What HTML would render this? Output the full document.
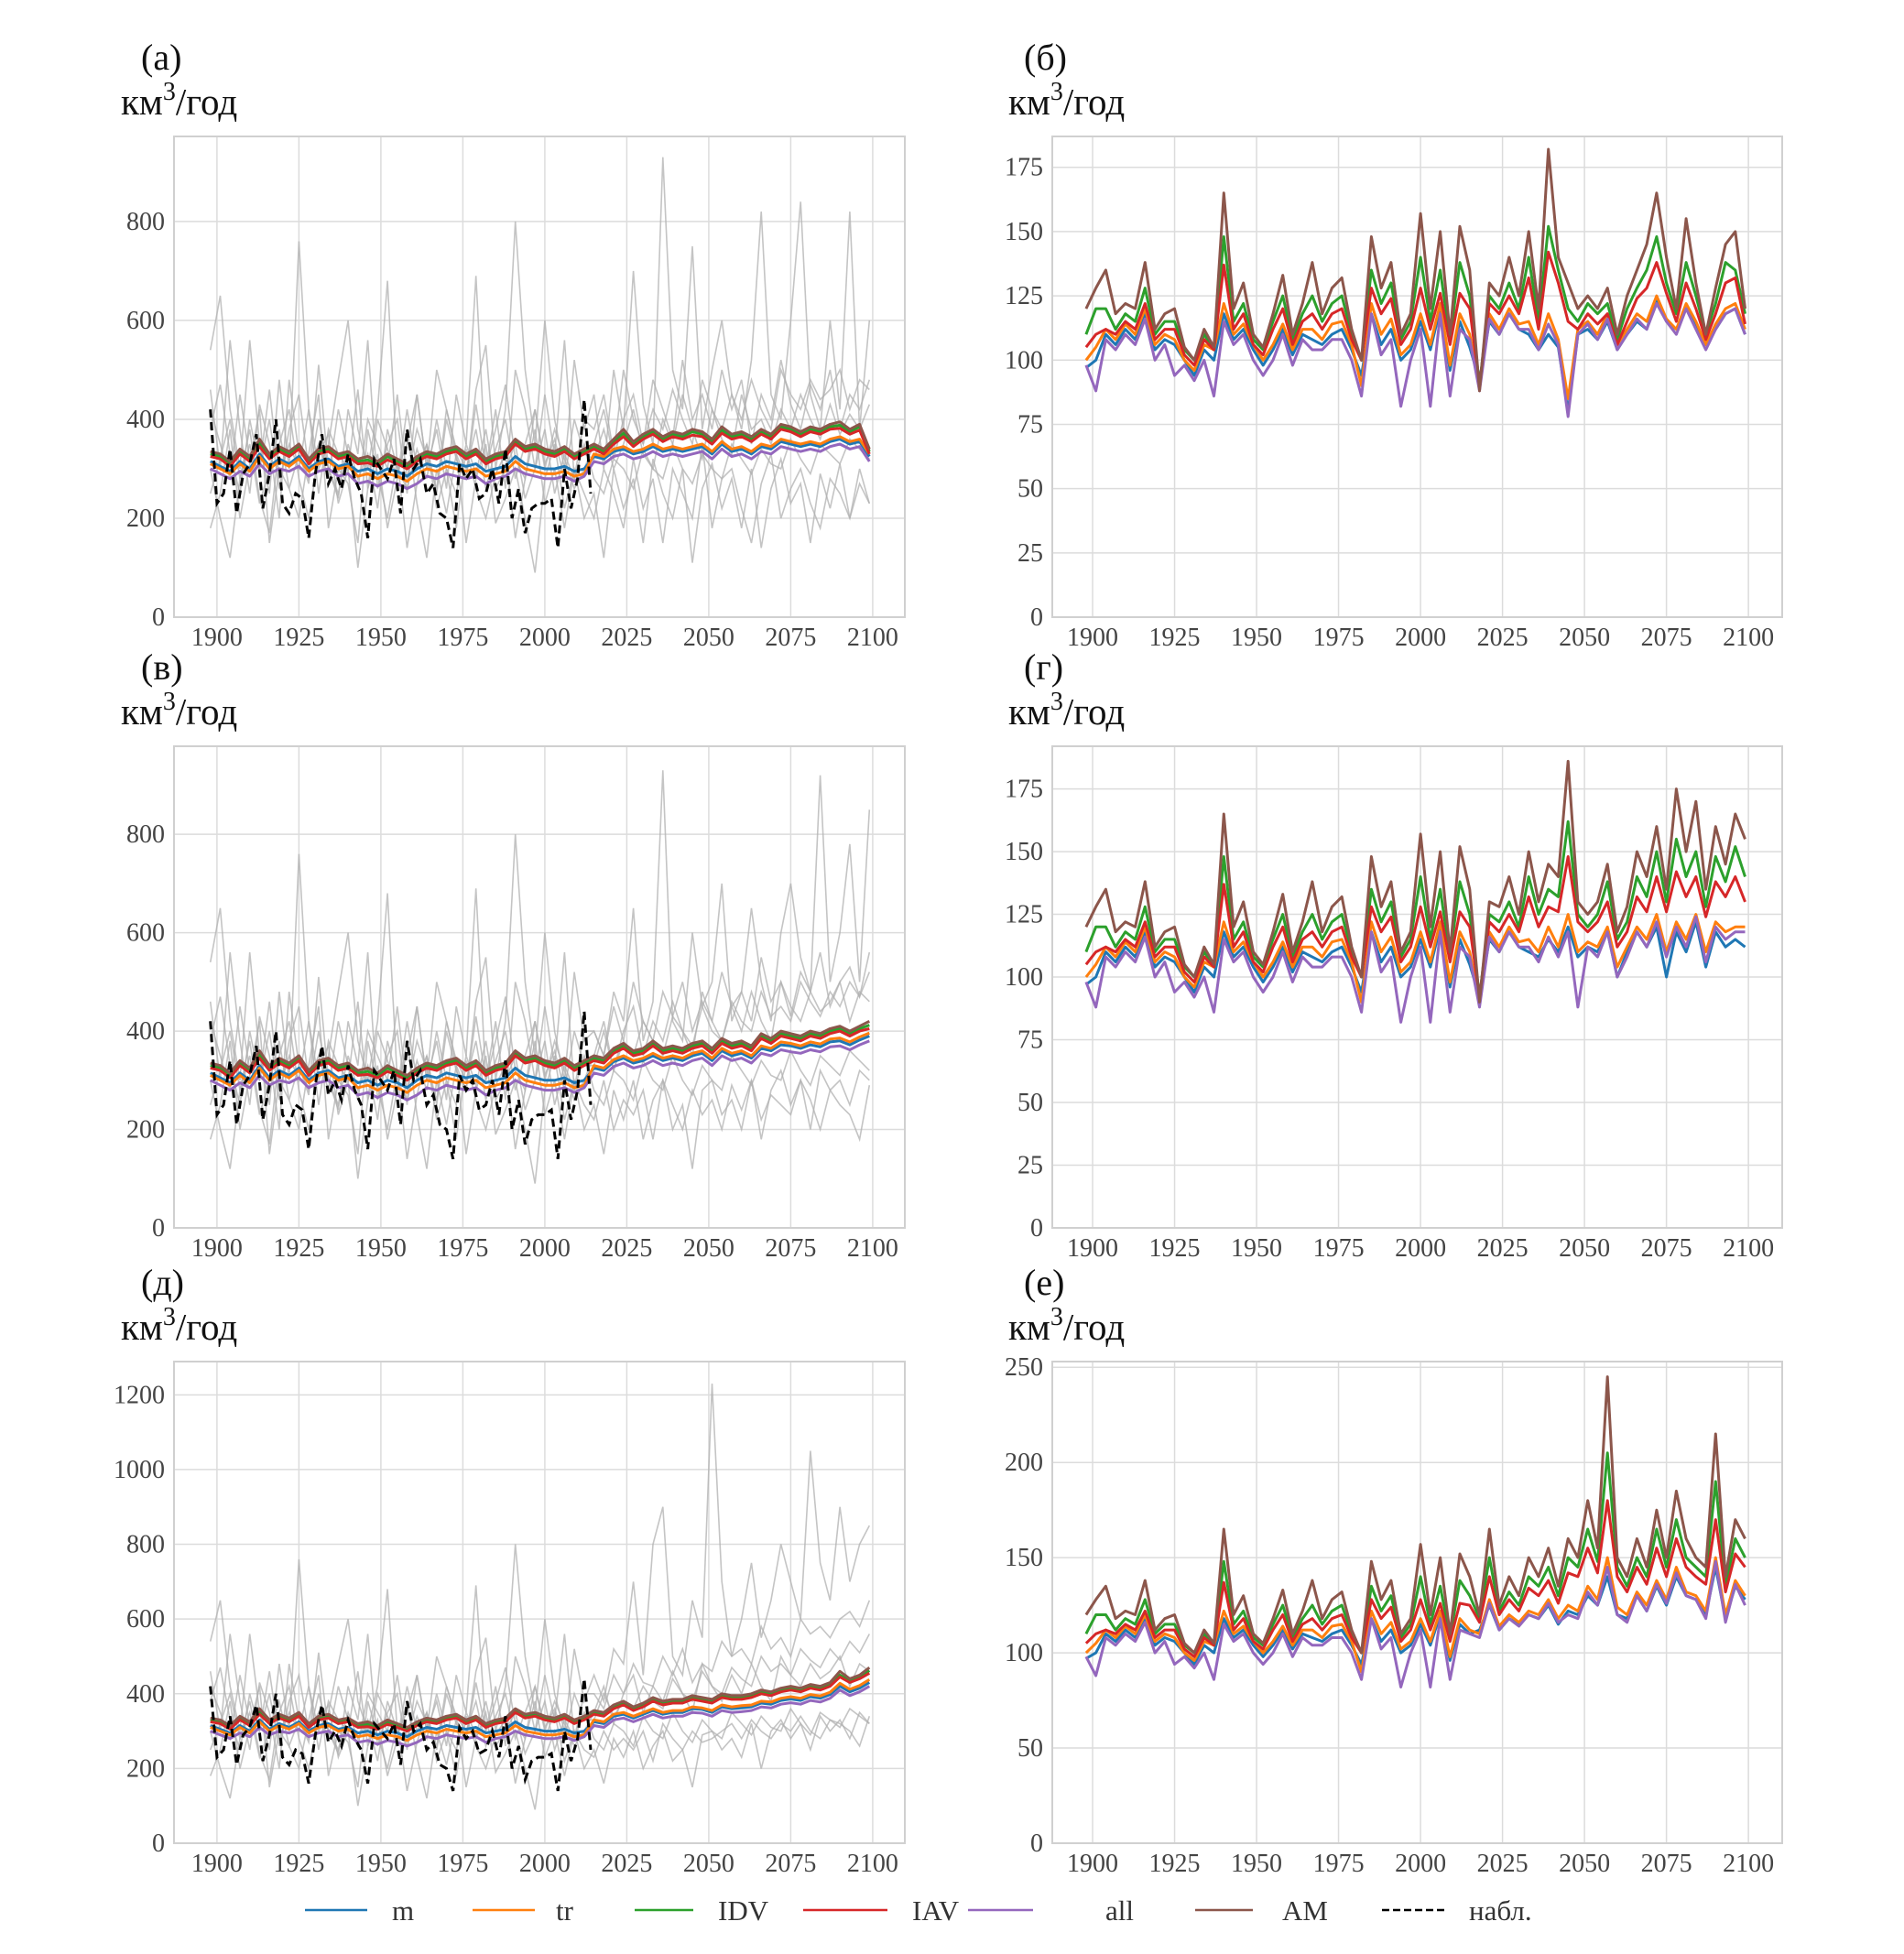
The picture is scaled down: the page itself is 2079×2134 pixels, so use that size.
<!DOCTYPE html>
<html><head><meta charset="utf-8"><style>
body{margin:0;background:#fff}
svg{display:block}
text{font-family:"Liberation Serif","DejaVu Serif",serif}
</style></head><body>
<svg id="fig" width="2079" height="2134" viewBox="0 0 2079 2134" xmlns="http://www.w3.org/2000/svg">
<rect width="2079" height="2134" fill="#fff"/>
<g id="legend"></g>
</svg>
<script>
// ---- shared historical colored series (left panels), 1898..2012 step 3
const histL_AM=[335,330,315,340,325,360,330,345,335,350,320,340,345,330,335,320,325,315,330,320,310,325,335,330,340,345,330,340,320,330,335,360,345,350,340,335,345,330,340];
const histL_IDV=[330,325,310,335,320,352,325,340,330,345,315,335,340,325,330,315,318,310,325,315,305,320,330,325,335,340,325,335,315,325,330,355,340,345,335,330,340,325,335];
const histL_IAV=[325,320,305,330,315,345,320,335,325,340,310,330,335,320,325,310,312,305,318,310,300,315,325,320,330,335,320,330,310,320,325,350,335,340,330,325,335,320,330];
const histL_m=[315,305,295,315,300,330,305,320,310,325,300,315,320,305,310,295,300,290,300,295,285,300,310,305,315,310,305,310,295,300,305,325,310,305,300,300,305,295,300];
const histL_tr=[310,300,290,310,295,325,300,315,305,320,295,310,315,300,305,285,290,280,290,285,275,290,300,295,305,300,295,300,285,290,295,315,300,295,290,290,295,285,290];
const histL_all=[300,290,280,295,285,310,290,300,295,305,285,295,300,285,290,270,275,265,275,270,260,270,285,280,290,285,280,285,270,280,285,300,290,285,280,280,285,275,285];
// observations 1898..2014 step 2
const obs=[420,230,250,340,210,290,310,370,220,290,400,230,210,250,240,160,290,370,270,300,260,330,280,250,160,320,300,280,320,210,380,300,320,250,270,210,200,140,310,280,300,240,250,300,230,340,200,260,170,220,230,230,240,140,300,220,280,440,250];
// gray ensemble historical 1898..2012 step 3
const g1h=[540,650,420,300,560,350,250,480,300,760,420,300,350,480,600,380,300,420,680,300,350,450,300,500,420,330,280,460,550,300,420,800,500,350,600,400,300,520,380];
const g2h=[180,250,380,200,310,420,150,300,260,200,330,450,180,300,270,150,380,290,200,320,140,270,350,220,300,180,340,260,200,290,330,160,280,380,230,300,180,300,250];
const g3h=[460,300,560,380,250,430,350,200,480,330,270,510,300,240,420,330,560,260,350,400,250,450,300,380,260,450,350,690,300,420,260,500,420,300,450,330,560,280,400];
const g4h=[300,200,120,280,380,240,170,350,420,280,200,330,370,230,300,100,260,330,180,280,380,230,120,300,210,330,150,280,350,190,240,300,200,90,280,350,220,300,200];
const g5h=[380,470,330,250,400,300,460,280,350,300,420,250,380,330,300,460,260,400,340,280,420,300,350,250,400,320,280,430,300,380,470,320,280,420,310,360,280,400,330];
const g6h=[420,350,280,450,320,300,400,260,380,450,300,350,280,420,330,260,400,350,300,450,280,380,320,260,420,340,300,380,260,340,400,280,350,420,300,380,320,260,300];
const g7h=[250,320,400,280,350,230,300,380,260,330,280,400,300,250,350,280,330,220,380,300,260,340,280,400,300,250,350,290,380,260,300,350,240,300,380,250,330,280,350];
// gray futures 2015..2099 step 3
const g1a=[450,300,500,380,700,430,350,930,500,420,750,380,500,600,450,380,520,820,450,400,600,840,450,380,600,420,820,380,600];
const g2a=[200,300,250,180,320,220,280,150,300,250,200,350,180,280,300,220,150,270,330,200,260,300,230,180,280,250,200,300,230];
const g3a=[380,450,330,500,400,350,480,420,360,520,400,450,380,500,420,480,350,450,400,520,430,380,470,420,500,380,450,420,480];
const g4a=[250,120,300,220,280,150,320,250,200,300,110,260,310,220,280,180,300,140,260,320,230,270,150,290,220,310,200,270,230];
const g5a=[320,380,300,350,420,330,300,400,350,450,380,320,420,360,330,450,380,400,350,420,380,450,400,360,430,370,410,380,430];
const g1v=[400,350,480,420,650,380,460,930,420,380,600,450,500,700,420,480,650,500,420,600,700,550,480,920,500,600,780,500,850];
const g2v=[220,300,200,260,230,280,180,300,250,200,280,230,260,200,290,240,300,220,270,250,230,300,260,200,280,250,230,180,290];
const g3v=[400,350,450,380,500,420,380,480,430,500,400,460,420,520,450,480,420,550,460,500,430,520,480,560,450,500,530,470,560];
const g4v=[250,150,280,220,300,180,260,300,200,250,120,280,300,230,260,200,300,180,280,320,250,300,200,320,280,300,250,320,300];
const g5v=[330,400,320,380,350,420,380,350,430,400,370,450,400,380,460,420,400,480,430,450,420,500,460,430,480,450,500,470,520];
const g1d=[450,380,520,480,700,450,800,900,500,450,650,550,1230,700,500,600,750,550,650,800,700,600,1050,750,650,900,700,800,850];
const g2d=[230,300,250,280,250,300,220,320,280,250,300,270,280,300,320,280,330,300,280,320,300,340,300,280,330,320,300,260,340];
const g3d=[400,360,450,400,480,430,420,500,450,520,430,480,460,540,500,520,480,580,520,550,500,600,560,580,550,600,620,580,650];
const g4d=[250,160,280,230,300,200,260,300,220,250,150,290,300,250,280,230,320,200,300,330,280,320,250,340,300,330,280,350,320];
const g5d=[330,400,340,380,360,420,380,360,440,400,380,460,420,400,470,440,420,500,460,480,450,520,490,470,520,490,540,510,560];
const g6f=[350,420,320,400,450,350,420,380,460,400,350,480,420,380,450,400,480,420,380,500,450,420,480,440,460,500,420,480,460];
const g7f=[280,250,320,300,260,340,300,280,350,300,270,330,300,280,350,320,290,340,310,300,360,320,290,350,330,310,360,340,320];
// left colored futures 2015..2099 step 3
const fa_AM=[350,340,360,380,355,370,380,365,375,370,380,375,360,385,370,375,365,380,370,390,385,375,385,380,390,395,380,390,340];
const fa_IDV=[345,335,355,372,350,365,375,360,370,365,375,370,355,378,365,370,360,375,365,385,380,370,380,375,385,388,375,385,335];
const fa_IAV=[340,330,350,365,345,360,370,355,365,360,368,365,350,372,360,365,355,370,360,380,375,365,375,370,380,382,370,378,330];
const fa_m=[325,320,335,340,330,335,345,335,340,335,340,345,330,350,335,340,330,345,340,355,350,345,350,345,355,360,350,355,325];
const fa_tr=[330,325,340,345,335,340,350,340,345,340,345,350,335,355,340,345,335,350,345,360,355,350,355,350,360,365,355,360,330];
const fa_all=[315,310,325,330,320,325,335,325,330,325,330,335,320,340,325,330,320,335,330,345,340,335,340,335,345,350,340,345,315];
const fv_AM=[350,345,365,375,360,365,380,365,370,365,375,380,365,385,375,380,370,395,385,400,395,390,400,395,405,410,400,410,420];
const fv_IDV=[345,340,360,370,355,360,375,360,365,360,370,375,360,380,370,375,365,390,380,395,390,385,395,390,400,405,395,405,412];
const fv_IAV=[340,335,355,365,350,355,370,355,360,355,365,370,355,375,365,370,360,385,375,390,385,380,390,385,395,400,390,400,405];
const fv_m=[325,320,338,345,335,340,350,340,345,340,350,355,340,360,350,355,345,365,360,372,370,365,372,368,378,380,372,382,390];
const fv_tr=[330,325,342,350,340,345,355,345,350,345,355,360,345,365,355,360,350,370,365,378,375,370,378,374,384,386,378,388,396];
const fv_all=[315,310,328,335,325,330,340,330,335,330,340,345,330,350,340,345,335,355,350,362,358,355,362,358,368,370,362,372,380];
const fd_AM=[355,350,370,380,365,375,390,380,385,385,395,390,385,400,395,395,400,410,405,415,420,415,425,420,430,460,440,450,470];
const fd_IDV=[350,345,365,375,360,370,385,375,380,380,390,385,380,395,390,390,395,405,400,410,415,410,420,415,425,450,435,445,462];
const fd_IAV=[345,340,360,370,355,365,380,370,375,375,385,380,375,390,385,385,390,400,395,405,410,405,415,410,420,445,430,440,455];
const fd_m=[325,320,340,345,335,345,355,345,350,350,360,358,350,365,360,362,365,375,372,382,386,382,392,388,398,420,405,415,430];
const fd_tr=[330,325,345,350,340,350,360,350,355,355,365,362,355,370,365,368,370,380,378,388,392,388,398,394,404,428,412,422,438];
const fd_all=[315,310,330,335,325,335,345,335,340,340,350,348,340,355,350,352,355,365,362,372,376,372,382,378,388,410,395,405,420];
// right panels historical 1898..2012 step 3
const histR_AM=[120,128,135,118,122,120,138,112,118,120,105,100,112,105,165,120,130,110,105,118,133,110,122,138,118,128,132,112,100,148,128,138,110,118,157,120,150,110,152];
const histR_IDV=[110,120,120,112,118,115,128,110,115,115,104,100,110,104,148,115,122,108,104,115,125,108,118,125,115,122,125,110,100,135,122,130,108,115,140,115,135,108,138];
const histR_IAV=[105,110,112,110,115,112,122,108,112,112,102,98,108,104,137,112,118,106,102,112,120,106,115,118,112,118,120,108,100,128,118,124,106,112,128,112,126,106,126];
const histR_m=[97,100,110,106,112,108,118,104,108,106,100,94,104,100,118,108,112,104,98,104,112,102,110,108,106,110,112,104,94,118,106,112,100,104,115,104,120,96,115];
const histR_tr=[100,105,112,108,114,110,120,106,110,108,100,96,106,104,122,110,114,106,100,106,114,104,112,112,108,114,115,106,90,122,110,116,102,106,118,106,122,98,118];
const histR_all=[98,88,108,104,110,106,116,100,106,94,98,92,100,86,115,106,110,100,94,100,110,98,108,104,104,108,108,100,86,118,102,108,82,100,112,82,118,86,112];
// right futures 2015..2099 step 3
const fb_AM=[135,88,130,125,140,125,150,120,182,140,130,120,125,120,128,110,125,135,145,165,140,120,155,130,110,128,145,150,120];
const fb_IDV=[125,90,125,120,130,120,140,115,152,135,120,115,122,118,122,108,120,128,135,148,130,118,138,125,110,122,138,135,118];
const fb_IAV=[120,90,122,118,125,118,132,112,142,130,115,112,118,114,118,106,115,124,128,138,126,115,130,120,108,118,130,132,114];
const fb_m=[105,92,115,110,118,112,110,104,110,105,80,110,112,108,115,104,110,115,112,124,115,112,120,114,106,112,118,120,110];
const fb_tr=[110,90,118,112,120,114,115,106,118,108,85,112,115,110,118,106,112,118,115,125,116,112,122,115,106,114,120,122,112];
const fb_all=[108,88,116,110,118,112,112,104,114,106,78,110,114,108,116,104,110,116,112,122,115,110,120,112,104,112,118,120,110];
const fg_AM=[135,90,130,128,140,125,150,130,145,140,186,130,125,130,145,118,128,150,140,160,135,175,150,170,135,160,145,165,155];
const fg_IDV=[125,92,125,122,130,120,140,125,135,132,162,125,120,125,138,115,122,140,132,150,130,155,140,150,128,148,138,152,140];
const fg_IAV=[120,92,122,118,125,118,132,120,128,126,148,122,118,122,130,112,118,132,126,140,126,142,132,140,124,138,132,140,130];
const fg_m=[105,92,115,110,118,112,110,108,115,110,120,108,112,110,118,100,110,118,112,120,100,118,110,122,104,118,112,115,112];
const fg_tr=[110,90,118,112,120,114,115,110,120,112,125,110,114,112,120,104,112,120,115,125,110,122,115,125,110,122,118,120,120];
const fg_all=[108,88,116,110,118,112,112,106,116,108,118,88,112,108,118,100,108,118,112,122,108,120,112,124,106,120,115,118,118];
const fe_AM=[140,120,165,125,140,130,150,140,155,135,160,150,180,155,245,150,140,160,145,175,150,185,160,150,145,215,140,170,160];
const fe_IDV=[130,118,150,122,132,125,140,135,145,130,150,145,165,148,205,145,135,150,140,165,145,170,150,145,140,190,135,160,150];
const fe_IAV=[125,116,140,120,128,122,134,130,138,126,142,140,155,142,180,140,132,145,136,155,140,160,145,140,136,170,132,152,145];
const fe_m=[110,112,125,112,118,115,120,118,125,115,122,120,130,125,140,120,118,130,122,135,125,140,130,128,120,145,118,135,128];
const fe_tr=[112,110,128,114,120,116,122,120,128,118,125,122,135,128,150,124,120,132,125,138,128,145,132,130,122,150,120,138,130];
const fe_all=[110,108,126,112,118,114,120,118,126,116,120,118,132,125,145,120,116,130,122,136,126,142,130,128,118,148,116,136,125];
// tick labels
const xTicks=[1900,1925,1950,1975,2000,2025,2050,2075,2100];
const yTicksL12=[0,200,400,600,800];
const yTicksL3=[0,200,400,600,800,1000,1200];
const yTicksR12=[0,25,50,75,100,125,150,175];
const yTicksR3=[0,50,100,150,200,250];
const seriesNames=["m","tr","IDV","IAV","all","AM"];
const colors=["#1f77b4","#ff7f0e","#2ca02c","#d62728","#9467bd","#8c564b"];

const NS="http://www.w3.org/2000/svg";
const svg=document.getElementById('fig');
function mk(tag,attrs,parent){const e=document.createElementNS(NS,tag);for(const k in attrs)e.setAttribute(k,attrs[k]);(parent||svg).appendChild(e);return e;}

const panels=[
 {id:'a',label:'(а)',bx0:190,bx1:988,by0:149,by1:674,xmin:1886.9,xmax:2109.8,ymax:972,yt:yTicksL12,left:true,
  hist:[histL_m,histL_tr,histL_IDV,histL_IAV,histL_all,histL_AM],fut:[fa_m,fa_tr,fa_IDV,fa_IAV,fa_all,fa_AM],gf:[g1a,g2a,g3a,g4a,g5a,g6f,g7f]},
 {id:'b',label:'(б)',bx0:1149,bx1:1946,by0:149,by1:674,xmin:1887.7,xmax:2110.3,ymax:187,yt:yTicksR12,left:false,
  hist:[histR_m,histR_tr,histR_IDV,histR_IAV,histR_all,histR_AM],fut:[fb_m,fb_tr,fb_IDV,fb_IAV,fb_all,fb_AM]},
 {id:'v',label:'(в)',bx0:190,bx1:988,by0:815,by1:1341,xmin:1886.9,xmax:2109.8,ymax:979,yt:yTicksL12,left:true,
  hist:[histL_m,histL_tr,histL_IDV,histL_IAV,histL_all,histL_AM],fut:[fv_m,fv_tr,fv_IDV,fv_IAV,fv_all,fv_AM],gf:[g1v,g2v,g3v,g4v,g5v,g6f,g7f]},
 {id:'g',label:'(г)',bx0:1149,bx1:1946,by0:815,by1:1341,xmin:1887.7,xmax:2110.3,ymax:192,yt:yTicksR12,left:false,
  hist:[histR_m,histR_tr,histR_IDV,histR_IAV,histR_all,histR_AM],fut:[fg_m,fg_tr,fg_IDV,fg_IAV,fg_all,fg_AM]},
 {id:'d',label:'(д)',bx0:190,bx1:988,by0:1487,by1:2013,xmin:1886.9,xmax:2109.8,ymax:1289,yt:yTicksL3,left:true,
  hist:[histL_m,histL_tr,histL_IDV,histL_IAV,histL_all,histL_AM],fut:[fd_m,fd_tr,fd_IDV,fd_IAV,fd_all,fd_AM],gf:[g1d,g2d,g3d,g4d,g5d,g6f,g7f]},
 {id:'e',label:'(е)',bx0:1149,bx1:1946,by0:1487,by1:2013,xmin:1887.7,xmax:2110.3,ymax:253,yt:yTicksR3,left:false,
  hist:[histR_m,histR_tr,histR_IDV,histR_IAV,histR_all,histR_AM],fut:[fe_m,fe_tr,fe_IDV,fe_IAV,fe_all,fe_AM]}
];
const gh=[g1h,g2h,g3h,g4h,g5h,g6h,g7h];

function pathFrom(vals,x0,step,X,Y){let d='';vals.forEach((v,i)=>{d+=(i?'L':'M')+X(x0+i*step).toFixed(1)+' '+Y(v).toFixed(1);});return d;}

panels.forEach(p=>{
 const g=mk('g',{});
 
 
 const X=v=>p.bx0+(v-p.xmin)/(p.xmax-p.xmin)*(p.bx1-p.bx0);
 const Y=v=>p.by1-v/p.ymax*(p.by1-p.by0);
 const tx=p.left?154:1118, ux=p.left?132:1101;
 const pl=mk('text',{x:tx,y:p.by0-73,'font-size':40,fill:'#111'},g);pl.textContent=p.label;
 
 
 const ul=mk('text',{x:ux,y:p.by0-24,'font-size':41,fill:'#111'},g);
 ul.innerHTML='км<tspan dy="-16" font-size="28">3</tspan><tspan dy="16">/год</tspan>';
 
 
 xTicks.forEach(t=>{
  const l=mk('line',{x1:X(t),x2:X(t),y1:p.by0,y2:p.by1,stroke:'#dcdcdc','stroke-width':1.5},g);
  
  
  const tl=mk('text',{x:X(t),y:p.by1+31,'font-size':28,fill:'#444','text-anchor':'middle'},g);tl.textContent=t;
  
  
 });
 p.yt.forEach(t=>{
  const l=mk('line',{x1:p.bx0,x2:p.bx1,y1:Y(t),y2:Y(t),stroke:'#dcdcdc','stroke-width':1.5},g);
  
  
  const tl=mk('text',{x:p.bx0-10,y:Y(t)+9,'font-size':28,fill:'#444','text-anchor':'end'},g);tl.textContent=t;
  
  
 });
 const fr=mk('rect',{x:p.bx0,y:p.by0,width:p.bx1-p.bx0,height:p.by1-p.by0,fill:'none',stroke:'#d0d0d0','stroke-width':2},g);
 
 
 if(p.left){
  gh.forEach((h,k)=>{
   const ln=mk('path',{d:pathFrom(h.concat(p.gf[k]),1898,3,X,Y),fill:'none',stroke:'#b0b0b0','stroke-width':1.6,opacity:0.75},g);
   
   
  });
 }
 p.hist.forEach((h,k)=>{
  const ln=mk('path',{d:pathFrom(h.concat(p.fut[k]),1898,3,X,Y),fill:'none',stroke:colors[k],'stroke-width':3,'stroke-linejoin':'round'},g);
  
  
 });
 if(p.left){
  const ob=mk('path',{d:pathFrom(obs,1898,2,X,Y),fill:'none',stroke:'#000','stroke-width':3,'stroke-dasharray':'9 5'},g);
  
  
 }
});

const leg=document.getElementById('legend');
const legItems=[[333,401,428,'m'],[516,584,607,'tr'],[693,757,784,'IDV'],[877,969,996,'IAV'],[1057,1128,1207,'all'],[1305,1368,1400,'AM'],[1509,1577,1604,'набл.']];
legItems.forEach((it,k)=>{
 const ln=mk('line',{x1:it[0],x2:it[1],y1:2086,y2:2086,stroke:k<6?colors[k]:'#000','stroke-width':2.5,'stroke-dasharray':k<6?'none':'8 4'},leg);
 
 
 const t=mk('text',{x:it[2],y:2097,'font-size':31,fill:'#333'},leg);t.textContent=it[3];
 
 
});
</script>
</body></html>
